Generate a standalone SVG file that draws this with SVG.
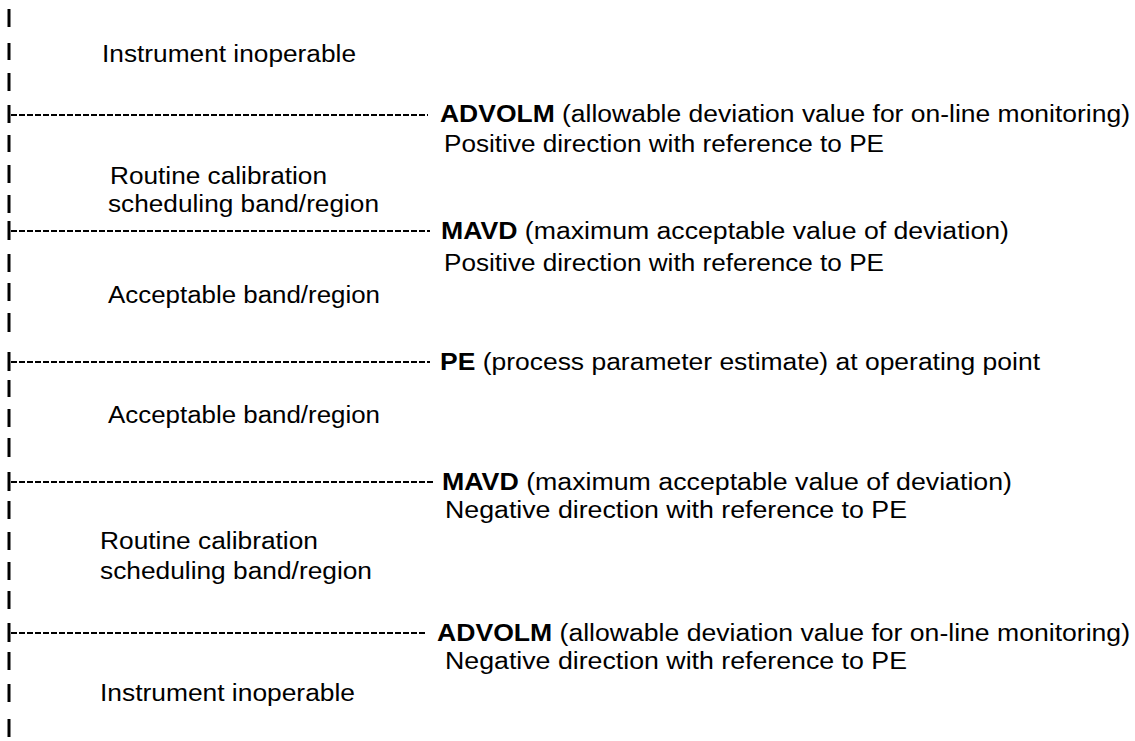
<svg xmlns="http://www.w3.org/2000/svg" width="1135" height="741" viewBox="0 0 1135 741">
<style>
text{font-family:"Liberation Sans",Arial,sans-serif;font-size:23.5px;fill:#000}
.b{font-weight:bold}
.bar{stroke:#000;stroke-width:3}
.dash{stroke:#000;stroke-width:2;stroke-dasharray:6 2}
</style>
<rect width="1135" height="741" fill="#fff"/>
<g id="axis">
<line class="bar" x1="9" y1="9" x2="9" y2="27"/>
<line class="bar" x1="9" y1="43" x2="9" y2="60"/>
<line class="bar" x1="9" y1="73" x2="9" y2="91"/>
<line class="bar" x1="9" y1="105" x2="9" y2="123"/>
<line class="bar" x1="9" y1="135" x2="9" y2="152"/>
<line class="bar" x1="9" y1="165" x2="9" y2="183"/>
<line class="bar" x1="9" y1="195" x2="9" y2="213"/>
<line class="bar" x1="9" y1="221" x2="9" y2="240"/>
<line class="bar" x1="9" y1="254" x2="9" y2="272"/>
<line class="bar" x1="9" y1="283" x2="9" y2="301"/>
<line class="bar" x1="9" y1="313" x2="9" y2="332"/>
<line class="bar" x1="9" y1="352" x2="9" y2="371"/>
<line class="bar" x1="9" y1="380" x2="9" y2="397"/>
<line class="bar" x1="9" y1="409" x2="9" y2="427"/>
<line class="bar" x1="9" y1="438" x2="9" y2="457"/>
<line class="bar" x1="9" y1="472" x2="9" y2="491"/>
<line class="bar" x1="9" y1="501" x2="9" y2="519"/>
<line class="bar" x1="9" y1="532" x2="9" y2="550"/>
<line class="bar" x1="9" y1="562" x2="9" y2="580"/>
<line class="bar" x1="9" y1="591" x2="9" y2="609"/>
<line class="bar" x1="9" y1="623" x2="9" y2="642"/>
<line class="bar" x1="9" y1="652" x2="9" y2="670"/>
<line class="bar" x1="9" y1="684" x2="9" y2="702"/>
<line class="bar" x1="9" y1="719" x2="9" y2="737"/>
</g>
<g id="connectors">
<line class="dash" x1="11" y1="115" x2="428" y2="115"/>
<line class="dash" x1="11" y1="231" x2="430" y2="231"/>
<line class="dash" x1="11" y1="362" x2="430" y2="362"/>
<line class="dash" x1="11" y1="482" x2="433" y2="482"/>
<line class="dash" x1="11" y1="633" x2="426" y2="633"/>
</g>
<g id="region-inoperable-top"><text x="102" y="62" textLength="254" lengthAdjust="spacingAndGlyphs">Instrument inoperable</text></g>
<g id="region-routine-top">
<text x="110" y="184" textLength="217" lengthAdjust="spacingAndGlyphs">Routine calibration</text>
<text x="108" y="212" textLength="271" lengthAdjust="spacingAndGlyphs">scheduling band/region</text>
</g>
<g id="region-acceptable-top"><text x="108" y="303" textLength="272" lengthAdjust="spacingAndGlyphs">Acceptable band/region</text></g>
<g id="region-acceptable-bottom"><text x="108" y="423" textLength="272" lengthAdjust="spacingAndGlyphs">Acceptable band/region</text></g>
<g id="region-routine-bottom">
<text x="100" y="549" textLength="218" lengthAdjust="spacingAndGlyphs">Routine calibration</text>
<text x="100" y="579" textLength="272" lengthAdjust="spacingAndGlyphs">scheduling band/region</text>
</g>
<g id="region-inoperable-bottom"><text x="100" y="701" textLength="255" lengthAdjust="spacingAndGlyphs">Instrument inoperable</text></g>
<g id="level-advolm-pos">
<text x="440" y="122" textLength="690" lengthAdjust="spacingAndGlyphs"><tspan class="b">ADVOLM</tspan> (allowable deviation value for on-line monitoring)</text>
<text x="444" y="152" textLength="440" lengthAdjust="spacingAndGlyphs">Positive direction with reference to PE</text>
</g>
<g id="level-mavd-pos">
<text x="441" y="239" textLength="568" lengthAdjust="spacingAndGlyphs"><tspan class="b">MAVD</tspan> (maximum acceptable value of deviation)</text>
<text x="444" y="271" textLength="440" lengthAdjust="spacingAndGlyphs">Positive direction with reference to PE</text>
</g>
<g id="level-pe">
<text x="440" y="370" textLength="600" lengthAdjust="spacingAndGlyphs"><tspan class="b">PE</tspan> (process parameter estimate) at operating point</text>
</g>
<g id="level-mavd-neg">
<text x="442" y="490" textLength="570" lengthAdjust="spacingAndGlyphs"><tspan class="b">MAVD</tspan> (maximum acceptable value of deviation)</text>
<text x="445" y="518" textLength="462" lengthAdjust="spacingAndGlyphs">Negative direction with reference to PE</text>
</g>
<g id="level-advolm-neg">
<text x="437" y="641" textLength="693" lengthAdjust="spacingAndGlyphs"><tspan class="b">ADVOLM</tspan> (allowable deviation value for on-line monitoring)</text>
<text x="445" y="669" textLength="462" lengthAdjust="spacingAndGlyphs">Negative direction with reference to PE</text>
</g>
</svg>
